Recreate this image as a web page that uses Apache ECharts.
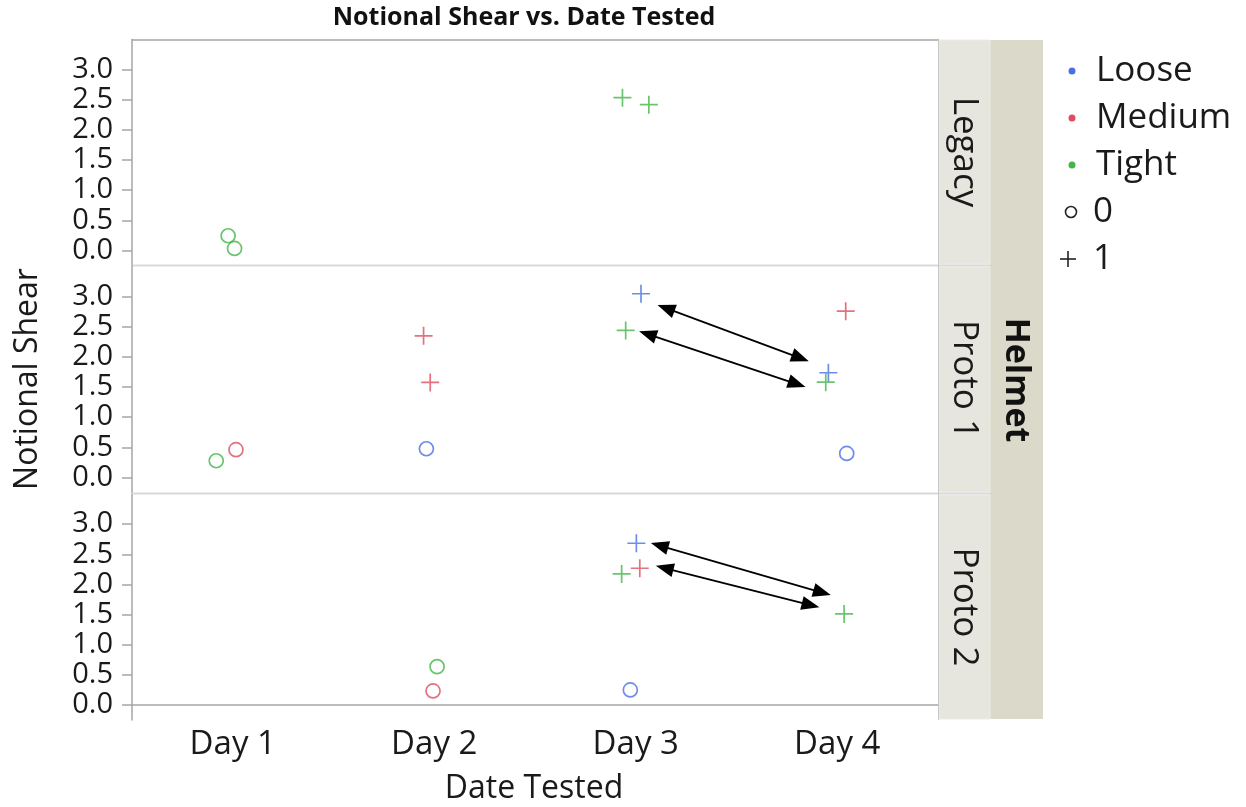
<!DOCTYPE html>
<html>
<head>
<meta charset="utf-8">
<script src="https://cdn.jsdelivr.net/npm/echarts@6/dist/echarts.min.js"></script>
<style>
html,body{margin:0;padding:0;background:#fff;}
#chart{width:1246px;height:807px;}
</style>
</head>
<body>
<div id="chart"></div>
<script>
// ---------- data ----------
const categories = ['Day 1', 'Day 2', 'Day 3', 'Day 4'];
const panels = ['Legacy', 'Proto 1', 'Proto 2'];
const fits = ['Loose', 'Medium', 'Tight'];
const outcomes = ['0', '1'];
const yTicks = [0, 0.5, 1, 1.5, 2, 2.5, 3];
const xTicks = [1, 2, 3, 4];

// Legacy
const legacyX = [0.977, 1.009, 2.934, 3.065];
const legacyY = [0.244, 0.033, 2.535, 2.419];
const legacyFit = ['Tight', 'Tight', 'Tight', 'Tight'];
const legacyOutcome = [0, 0, 1, 1];

// Proto 1
const proto1X = [0.918, 1.016, 1.947, 1.980, 1.961, 3.026, 2.950, 4.042, 3.956, 3.943, 4.047];
const proto1Y = [0.277, 0.460, 2.350, 1.576, 0.476, 3.048, 2.439, 2.759, 1.737, 1.581, 0.398];
const proto1Fit = ['Tight', 'Medium', 'Medium', 'Medium', 'Loose', 'Loose', 'Tight', 'Medium', 'Loose', 'Tight', 'Loose'];
const proto1Outcome = [0, 0, 1, 1, 0, 1, 1, 1, 1, 1, 0];

// Proto 2
const proto2X = [2.014, 1.994, 3.003, 3.020, 2.930, 2.973, 4.034];
const proto2Y = [0.635, 0.232, 2.683, 2.268, 2.174, 0.249, 1.510];
const proto2Fit = ['Tight', 'Medium', 'Loose', 'Medium', 'Tight', 'Loose', 'Tight'];
const proto2Outcome = [0, 0, 1, 1, 1, 0, 1];

// annotation arrows (data coordinates, [from, to])
const legacyArrows = [];
const proto1Arrows = [[[3.150, 2.808], [3.817, 1.981]], [[3.059, 2.379], [3.800, 1.549]]];
const proto2Arrows = [[[3.118, 2.644], [3.925, 1.864]], [[3.143, 2.272], [3.868, 1.656]]];

// ---------- styling ----------
const FONT = '"Open Sans", "Noto Sans", sans-serif';
const fitColors = { Loose: '#4a70e6', Medium: '#dc4d61', Tight: '#43b748' };
const PLUS = 'path://M10,0 L10,20 M0,10 L20,10';
const AXIS_GRAY = '#a6a6a6';

const panelData = [
  { x: legacyX, y: legacyY, fit: legacyFit, out: legacyOutcome, arrows: legacyArrows },
  { x: proto1X, y: proto1Y, fit: proto1Fit, out: proto1Outcome, arrows: proto1Arrows },
  { x: proto2X, y: proto2Y, fit: proto2Fit, out: proto2Outcome, arrows: proto2Arrows }
];

const gridTops = [39.5, 266.5, 494];
const GRID_H = 226;
const GRID_L = 132, GRID_W = 806;

const grids = gridTops.map(t => ({ left: GRID_L, top: t, width: GRID_W, height: GRID_H, containLabel: false }));

const xAxes = panelData.map((p, i) => ({
  type: 'value', gridIndex: i, min: 0.5, max: 4.5,
  show: i === 2,
  splitLine: { show: false },
  axisLine: { show: true, lineStyle: { color: AXIS_GRAY, width: 1.5 } },
  axisTick: { show: false },
  axisLabel: {
    show: i === 2,
    customValues: xTicks,
    formatter: v => categories[Math.round(v) - 1] || '',
    fontSize: 33, fontFamily: FONT, color: '#1a1a1a', margin: 8
  }
}));

const yAxes = panelData.map((p, i) => ({
  type: 'value', gridIndex: i, min: -0.25, max: 3.5,
  splitLine: { show: false },
  axisLine: { show: true, lineStyle: { color: AXIS_GRAY, width: 1.5 } },
  axisTick: { show: true, customValues: yTicks, length: 10, lineStyle: { color: AXIS_GRAY, width: 1.5 } },
  axisLabel: {
    customValues: yTicks,
    formatter: v => v.toFixed(1),
    fontSize: 29, fontFamily: FONT, color: '#1a1a1a', margin: 19
  }
}));

const series = [];
panelData.forEach((p, pi) => {
  fits.forEach(f => {
    const c = fitColors[f];
    const data = [];
    p.x.forEach((xv, k) => {
      if (p.fit[k] !== f) return;
      if (p.out[k] === 0) {
        data.push({ value: [xv, p.y[k]], symbol: 'circle', symbolSize: 14,
          itemStyle: { color: 'rgba(255,255,255,0)', borderColor: c, borderWidth: 1.7 } });
      } else {
        data.push({ value: [xv, p.y[k]], symbol: PLUS, symbolSize: 18,
          itemStyle: { color: c, borderColor: c, borderWidth: 1.7 } });
      }
    });
    series.push({
      type: 'scatter', name: panels[pi] + ' ' + f, xAxisIndex: pi, yAxisIndex: pi,
      data, silent: true, animation: false
    });
  });
  if (p.arrows.length) {
    series.push({
      type: 'scatter', name: panels[pi] + ' arrows', xAxisIndex: pi, yAxisIndex: pi,
      data: [], silent: true, animation: false,
      markLine: {
        silent: true, animation: false,
        symbol: ['triangle', 'triangle'], symbolSize: [14, 18],
        lineStyle: { color: '#000', width: 1.8, type: 'solid' },
        itemStyle: { color: '#000' },
        label: { show: false },
        emphasis: { disabled: true },
        data: p.arrows.map(a => [{ coord: a[0] }, { coord: a[1] }])
      }
    });
  }
});

// ---------- layout graphics ----------
const stripLight = '#e6e6de', stripDark = '#dbd9c9';
const stripRanges = [[40, 264], [267, 492], [495, 719]];
const graphic = [];
graphic.push({ type: 'rect', shape: { x: 990, y: 40, width: 53, height: 679 }, style: { fill: stripDark }, z: 1 });
stripRanges.forEach((r, i) => {
  graphic.push({ type: 'rect', shape: { x: 939, y: r[0], width: 51, height: r[1] - r[0] },
    style: { fill: stripLight, stroke: '#ecece6', lineWidth: 1 }, z: 2 });
  graphic.push({ type: 'text', x: 964, y: (r[0] + r[1]) / 2, rotation: -Math.PI / 2,
    style: { text: panels[i], font: '35px ' + FONT, fill: '#1a1a1a', align: 'center', verticalAlign: 'middle' }, z: 3 });
});
graphic.push({ type: 'text', x: 1016, y: 380, rotation: -Math.PI / 2,
  style: { text: 'Helmet', font: 'bold 34px ' + FONT, fill: '#111', align: 'center', verticalAlign: 'middle' }, z: 3 });
[265.5, 493.5].forEach(y => graphic.push({ type: 'line', shape: { x1: 133, y1: y, x2: 990, y2: y },
  style: { stroke: '#d9d9d9', lineWidth: 2 }, z: 4 }));
graphic.push({ type: 'line', shape: { x1: 132, y1: 40, x2: 939, y2: 40 }, style: { stroke: AXIS_GRAY, lineWidth: 1.5 }, z: 4 });
graphic.push({ type: 'line', shape: { x1: 938.5, y1: 40, x2: 938.5, y2: 720 }, style: { stroke: '#c8c8c8', lineWidth: 1 }, z: 4 });
graphic.push({ type: 'text', x: 524, y: 18, style: { text: 'Notional Shear vs. Date Tested',
  font: 'bold 25px ' + FONT, fill: '#111', align: 'center', verticalAlign: 'middle' }, z: 5 });
graphic.push({ type: 'text', x: 28, y: 379, rotation: Math.PI / 2, style: { text: 'Notional Shear',
  font: '32px ' + FONT, fill: '#1a1a1a', align: 'center', verticalAlign: 'middle' }, z: 5 });
graphic.push({ type: 'text', x: 534, y: 789, style: { text: 'Date Tested',
  font: '32px ' + FONT, fill: '#1a1a1a', align: 'center', verticalAlign: 'middle' }, z: 5 });
// legend
const legendY = [71, 118, 165, 212, 259];
fits.forEach((f, i) => {
  graphic.push({ type: 'circle', shape: { cx: 1072, cy: legendY[i], r: 3.5 }, style: { fill: fitColors[f] }, z: 5 });
  graphic.push({ type: 'text', x: 1096, y: legendY[i], style: { text: f, font: '35px ' + FONT, fill: '#1a1a1a', verticalAlign: 'middle' }, z: 5 });
});
graphic.push({ type: 'circle', shape: { cx: 1071, cy: legendY[3], r: 5.5 }, style: { fill: 'none', stroke: '#222', lineWidth: 1.6 }, z: 5 });
graphic.push({ type: 'text', x: 1093, y: legendY[3], style: { text: outcomes[0], font: '35px ' + FONT, fill: '#1a1a1a', verticalAlign: 'middle' }, z: 5 });
graphic.push({ type: 'line', shape: { x1: 1060, y1: legendY[4], x2: 1076, y2: legendY[4] }, style: { stroke: '#222', lineWidth: 1.6 }, z: 5 });
graphic.push({ type: 'line', shape: { x1: 1068, y1: legendY[4] - 8, x2: 1068, y2: legendY[4] + 8 }, style: { stroke: '#222', lineWidth: 1.6 }, z: 5 });
graphic.push({ type: 'text', x: 1093, y: legendY[4], style: { text: outcomes[1], font: '35px ' + FONT, fill: '#1a1a1a', verticalAlign: 'middle' }, z: 5 });

const chart = echarts.init(document.getElementById('chart'), null, { renderer: 'canvas' });
chart.setOption({
  backgroundColor: '#ffffff',
  animation: false,
  grid: grids,
  xAxis: xAxes,
  yAxis: yAxes,
  series,
  graphic
});
</script>
</body>
</html>
